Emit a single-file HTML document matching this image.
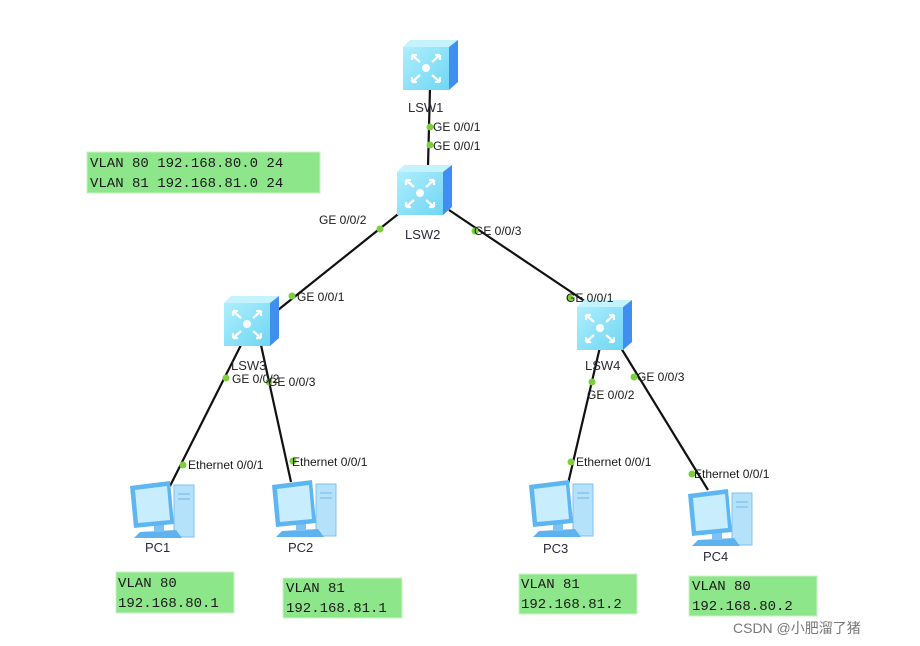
<!DOCTYPE html>
<html><head><meta charset="utf-8"><style>
html,body{margin:0;padding:0;background:#fff;}
svg{display:block;}
.l{font-family:"Liberation Sans",sans-serif;font-size:12px;fill:#1a1a1a;}
.n{font-family:"Liberation Sans",sans-serif;font-size:13px;fill:#2a2a3a;}
.m{font-family:"Liberation Mono",monospace;font-size:14px;fill:#1a1a1a;}
</style></head><body>
<svg width="920" height="646" viewBox="0 0 920 646" xmlns="http://www.w3.org/2000/svg">
<defs>
<linearGradient id="fg" x1="0" y1="0" x2="1" y2="1"><stop offset="0" stop-color="#aeeefc"/><stop offset="1" stop-color="#6fd6f4"/></linearGradient>
<g id="sw">
<polygon points="0,7 7,0 55,0 46,7" fill="#c4f3fd"/>
<rect x="0" y="7" width="46" height="43" fill="url(#fg)"/>
<polygon points="46,7 55,0 55,42 46,50" fill="#3f8ff0"/>
<circle cx="23" cy="28" r="4" fill="#fff"/>
<g stroke="#fff" stroke-width="2.2" fill="none">
<path d="M9,15 L17,22 M9,15 h5 M9,15 v5"/>
<path d="M37,15 L29,22 M37,15 h-5 M37,15 v5"/>
<path d="M9,42 L17,35 M9,42 h5 M9,42 v-5"/>
<path d="M37,42 L29,35 M37,42 h-5 M37,42 v-5"/>
</g>
</g>
<g id="pc">
<rect x="46" y="5" width="20" height="52" fill="#b4e2fa" stroke="#7fc0ee"/>
<line x1="50" y1="14" x2="62" y2="14" stroke="#6fb6ea"/>
<line x1="50" y1="19" x2="62" y2="19" stroke="#6fb6ea"/>
<polygon points="12,52 48,50 54,58 6,58" fill="#5fb2f0"/>
<rect x="26" y="44" width="10" height="8" fill="#7cc3f4"/>
<polygon points="2,6 42,1 46,44 6,48" fill="#5db6f2"/>
<polygon points="7,10 39,6 42,40 10,43" fill="#c8eefd"/>
</g>
</defs>
<g stroke="#111" stroke-width="2.2">
<line x1="430" y1="88" x2="428" y2="166"/>
<line x1="402" y1="211" x2="278" y2="310"/>
<line x1="449" y1="210" x2="592" y2="306"/>
<line x1="241" y1="345" x2="170" y2="486"/>
<line x1="261" y1="345" x2="291" y2="482"/>
<line x1="600" y1="347" x2="567" y2="488"/>
<line x1="621" y1="348" x2="708" y2="490"/>
</g>
<use href="#sw" x="403" y="40"/>
<use href="#sw" x="397" y="165"/>
<use href="#sw" x="224" y="296"/>
<use href="#sw" x="577" y="300"/>
<use href="#pc" x="128" y="480"/>
<use href="#pc" x="270" y="479"/>
<use href="#pc" x="527" y="479"/>
<use href="#pc" x="686" y="488"/>
<g fill="#7ccf3a">
<circle cx="430" cy="127" r="3.5"/><circle cx="430" cy="145" r="3.5"/>
<circle cx="380" cy="229" r="3.5"/><circle cx="475" cy="231" r="3.5"/>
<circle cx="292" cy="296" r="3.5"/><circle cx="570" cy="298" r="3.5"/>
<circle cx="226" cy="378" r="3.5"/><circle cx="269" cy="382" r="3.5"/>
<circle cx="592" cy="382" r="3.5"/><circle cx="634" cy="377" r="3.5"/>
<circle cx="183" cy="465" r="3.5"/><circle cx="293" cy="461" r="3.5"/>
<circle cx="571" cy="462" r="3.5"/><circle cx="692" cy="474" r="3.5"/>
</g>
<g class="l">
<text x="433" y="131">GE 0/0/1</text><text x="433" y="150">GE 0/0/1</text>
<text x="319" y="224">GE 0/0/2</text><text x="474" y="235">GE 0/0/3</text>
<text x="297" y="301">GE 0/0/1</text><text x="566" y="302">GE 0/0/1</text>
<text x="232" y="383">GE 0/0/2</text><text x="268" y="386">GE 0/0/3</text>
<text x="587" y="399">GE 0/0/2</text><text x="637" y="381">GE 0/0/3</text>
<text x="188" y="469">Ethernet 0/0/1</text><text x="292" y="466">Ethernet 0/0/1</text>
<text x="576" y="466">Ethernet 0/0/1</text><text x="694" y="478">Ethernet 0/0/1</text>
</g>
<g class="n">
<text x="408" y="112">LSW1</text><text x="405" y="239">LSW2</text>
<text x="231" y="370">LSW3</text><text x="585" y="370">LSW4</text>
<text x="145" y="552">PC1</text><text x="288" y="552">PC2</text>
<text x="543" y="553">PC3</text><text x="703" y="561">PC4</text>
</g>
<g fill="#8ee68a" stroke="#c9f0c6">
<rect x="87" y="152" width="233" height="41"/>
<rect x="116" y="572" width="118" height="41"/>
<rect x="283" y="578" width="119" height="40"/>
<rect x="519" y="574" width="118" height="40"/>
<rect x="689" y="576" width="128" height="40"/>
</g>
<g class="m">
<text x="90" y="167">VLAN 80 192.168.80.0 24</text><text x="90" y="187">VLAN 81 192.168.81.0 24</text>
<text x="118" y="587">VLAN 80</text><text x="118" y="607">192.168.80.1</text>
<text x="286" y="592">VLAN 81</text><text x="286" y="612">192.168.81.1</text>
<text x="521" y="588">VLAN 81</text><text x="521" y="608">192.168.81.2</text>
<text x="692" y="590">VLAN 80</text><text x="692" y="610">192.168.80.2</text>
</g>
<text x="733" y="633" font-family="Liberation Sans, Noto Sans CJK SC, sans-serif" font-size="14" fill="#777">CSDN @小肥溜了猪</text>
</svg>
</body></html>
